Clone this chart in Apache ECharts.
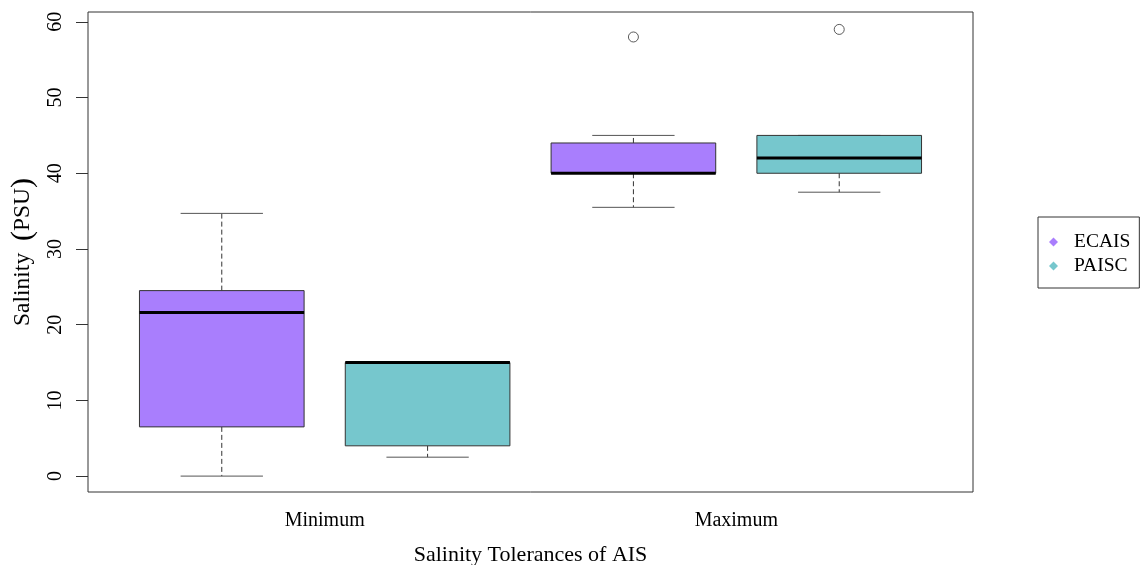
<!DOCTYPE html>
<html>
<head>
<meta charset="utf-8">
<script src="https://cdn.jsdelivr.net/npm/echarts@6/dist/echarts.min.js"></script>
<style>
html,body{margin:0;padding:0;background:#fff;}
#chart{width:1141px;height:565px;}
</style>
</head>
<body>
<div id="chart"></div>
<script>
// ---- data ----
const categories = ['Minimum', 'Maximum'];
const seriesNames = ['ECAIS', 'PAISC'];
// [lower whisker, Q1, median, Q3, upper whisker] per category
const ecaisStats = [[0, 6.5, 21.6, 24.5, 34.7], [35.5, 40, 40, 44, 45]];
const paiscStats = [[2.5, 4, 15, 15, 15], [37.5, 40, 42, 45, 45]];
// outliers per category
const ecaisOutliers = [[], [58]];
const paiscOutliers = [[], [59]];
const yTicks = [0, 10, 20, 30, 40, 50, 60];

const colors = ['#a97efd', '#76c7cd'];
const FONT = 'Liberation Serif';

function boxData(stats, sIdx) {
  return stats.map((s, cIdx) => [cIdx * 2 + sIdx + 1].concat(s));
}
function outlierData(outs, sIdx) {
  const res = [];
  outs.forEach((arr, cIdx) => arr.forEach(v => res.push([cIdx * 2 + sIdx + 1, v])));
  return res;
}

const BOX_W = 0.8, CAP_W = 0.4;
function renderBox(params, api) {
  const x = api.value(0);
  const lo = api.value(1), q1 = api.value(2), med = api.value(3), q3 = api.value(4), hi = api.value(5);
  const w = api.size([BOX_W, 0])[0];
  const cw = api.size([CAP_W, 0])[0];
  const pLo = api.coord([x, lo]), pQ1 = api.coord([x, q1]), pMed = api.coord([x, med]),
        pQ3 = api.coord([x, q3]), pHi = api.coord([x, hi]);
  const cx = pMed[0];
  const fill = api.visual('color');
  const children = [];
  const dash = {stroke: '#333', lineWidth: 1, lineDash: [5, 3]};
  const cap = {stroke: '#555', lineWidth: 1};
  if (pHi[1] < pQ3[1]) children.push({type: 'line', shape: {x1: cx, y1: pQ3[1], x2: cx, y2: pHi[1]}, style: dash});
  if (pLo[1] > pQ1[1]) children.push({type: 'line', shape: {x1: cx, y1: pQ1[1], x2: cx, y2: pLo[1]}, style: dash});
  children.push({type: 'line', shape: {x1: cx - cw / 2, y1: pHi[1], x2: cx + cw / 2, y2: pHi[1]}, style: cap});
  children.push({type: 'line', shape: {x1: cx - cw / 2, y1: pLo[1], x2: cx + cw / 2, y2: pLo[1]}, style: cap});
  children.push({type: 'rect', shape: {x: cx - w / 2, y: pQ3[1], width: w, height: pQ1[1] - pQ3[1]},
    style: {fill: fill, stroke: '#333', lineWidth: 1}});
  children.push({type: 'line', shape: {x1: cx - w / 2, y1: pMed[1], x2: cx + w / 2, y2: pMed[1]},
    style: {stroke: '#000', lineWidth: 3}});
  return {type: 'group', children: children};
}

const chart = echarts.init(document.getElementById('chart'), null, {renderer: 'canvas'});
chart.setOption({
  animation: false,
  backgroundColor: '#fff',
  textStyle: {fontFamily: FONT},
  grid: {left: 88, top: 12, width: 885, height: 480, show: true, borderColor: '#333', borderWidth: 1,
    backgroundColor: 'transparent', containLabel: false, outerBoundsMode: 'none'},
  legend: {
    orient: 'vertical', left: 1038, top: 217,
    data: seriesNames,
    icon: 'diamond', itemWidth: 9, itemHeight: 9, itemGap: 4,
    padding: [15, 9, 12, 11],
    borderColor: '#333', borderWidth: 1,
    textStyle: {fontFamily: FONT, fontSize: 19.5, color: '#000', lineHeight: 19, padding: [0, 0, 0, 11]},
    selectedMode: false
  },
  xAxis: {
    type: 'value', min: 0.35, max: 4.65,
    axisLine: {show: false}, axisTick: {show: false}, splitLine: {show: false},
    axisLabel: {
      customValues: [1.5, 3.5],
      formatter: v => categories[Math.round((v - 1.5) / 2)],
      fontFamily: FONT, fontSize: 20, color: '#000', margin: 19
    },
    name: 'Salinity Tolerances of AIS', nameLocation: 'middle', nameGap: 52,
    nameTextStyle: {fontFamily: FONT, fontSize: 22, color: '#000'}
  },
  yAxis: {
    type: 'value', min: -2.1, max: 61.3,
    axisLine: {show: false},
    axisTick: {show: true, customValues: yTicks, length: 12, lineStyle: {color: '#333'}},
    splitLine: {show: false},
    axisLabel: {customValues: yTicks, rotate: 90, fontFamily: FONT, fontSize: 20, color: '#000', margin: 22},
    name: '{a|Salinity  }{p|(}{a|PSU}{p|)}', nameLocation: 'middle', nameRotate: 90, nameGap: 49,
    nameTextStyle: {fontFamily: FONT, fontSize: 23, color: '#000',
      rich: {a: {fontFamily: FONT, fontSize: 23.5, color: '#000'}, p: {fontFamily: FONT, fontSize: 30, color: '#000'}}}
  },
  series: [
    {name: seriesNames[0], type: 'custom', renderItem: renderBox, itemStyle: {color: colors[0]},
      encode: {x: 0, y: [1, 2, 3, 4, 5]}, data: boxData(ecaisStats, 0), z: 2},
    {name: seriesNames[1], type: 'custom', renderItem: renderBox, itemStyle: {color: colors[1]},
      encode: {x: 0, y: [1, 2, 3, 4, 5]}, data: boxData(paiscStats, 1), z: 2},
    {type: 'scatter', symbol: 'circle', symbolSize: 10,
      itemStyle: {color: '#fff', borderColor: '#333', borderWidth: 1},
      data: outlierData(ecaisOutliers, 0).concat(outlierData(paiscOutliers, 1)), z: 3}
  ]
});
</script>
</body>
</html>
